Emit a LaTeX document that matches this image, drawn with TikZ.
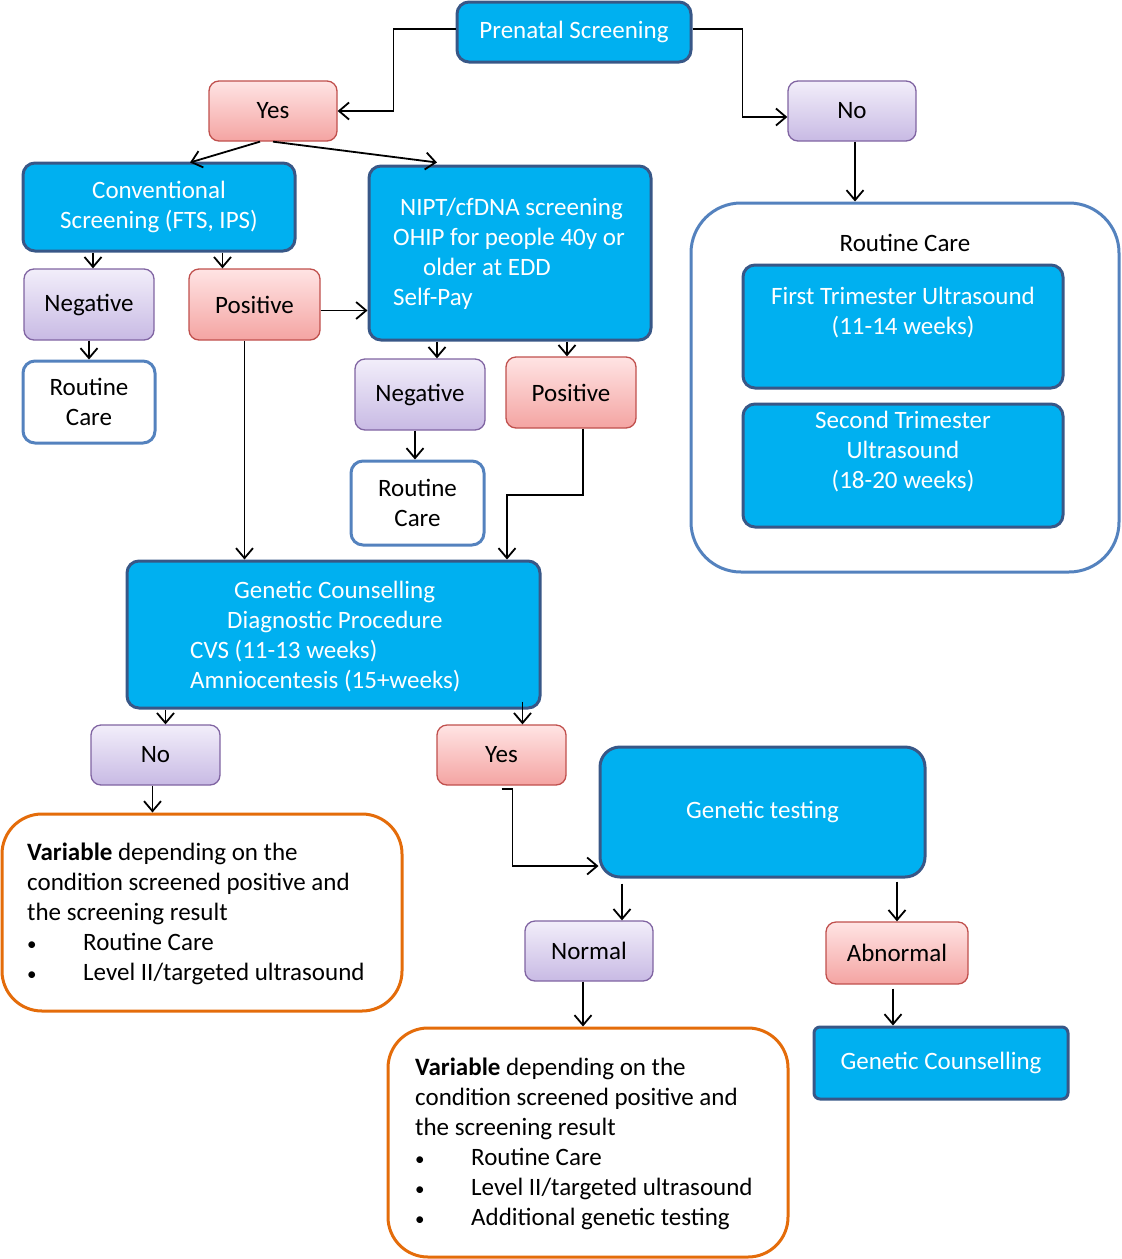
\documentclass[tikz,border=0pt]{standalone}
\usepackage{fontspec}
\setmainfont{Carlito}
\usetikzlibrary{arrows.meta}
\definecolor{bfill}{RGB}{0,176,240}
\definecolor{bdraw}{RGB}{56,87,135}
\definecolor{wdraw}{RGB}{84,130,190}
\definecolor{pinktop}{RGB}{255,228,228}
\definecolor{pinkbot}{RGB}{244,164,162}
\definecolor{pinkdraw}{RGB}{192,80,77}
\definecolor{purtop}{RGB}{242,238,250}
\definecolor{purbot}{RGB}{200,186,228}
\definecolor{purdraw}{RGB}{128,100,162}
\definecolor{orng}{RGB}{228,108,10}
\newcommand{\mybul}{\makebox[56pt][l]{{\fontsize{19}{30}\selectfont•}}}
\begin{document}
\begin{tikzpicture}[x=1pt,y=-1pt, font=\fontsize{25}{30}\selectfont,
 bluebox/.style={draw=bdraw, line width=3pt, fill=bfill, rounded corners=12pt, text=white, align=center, inner sep=0pt},
 pinkbox/.style={draw=pinkdraw, line width=1.3pt, top color=pinktop, bottom color=pinkbot, rounded corners=10pt, inner sep=0pt},
 purbox/.style={draw=purdraw, line width=1.3pt, top color=purtop, bottom color=purbot, rounded corners=10pt, inner sep=0pt},
 whitebox/.style={draw=wdraw, line width=3pt, fill=white, rounded corners=12pt, align=center, inner sep=0pt},
 varbox/.style={draw=orng, line width=3pt, fill=white, rounded corners=40pt, inner sep=0pt},
 txt/.style={inner sep=0pt, align=left},
 arr/.style={line width=1.8pt, -{Straight Barb[length=10pt,width=17pt]}}
]
\useasboundingbox (0,0) rectangle (1122,1259);

% top
\node[bluebox, minimum width=234pt, minimum height=60pt] (ps) at (574,32) {Prenatal Screening};
\node[pinkbox, minimum width=128pt, minimum height=60pt] (yes1) at (273,111) {Yes};
\node[purbox, minimum width=128pt, minimum height=60pt] (no1) at (852,111) {No};

% left branch
\node[bluebox, minimum width=272pt, minimum height=88pt] (conv) at (159,207) {Conventional\\Screening (FTS, IPS)};
\node[bluebox, minimum width=282pt, minimum height=174pt] (nipt) at (510,253) {};
\node[txt, anchor=west, text=white] (nipttxt) at (393,254) {\hspace*{7pt}NIPT/cfDNA screening\\OHIP for people 40y or\\\hspace*{30pt}older at EDD\\Self-Pay};
\node[purbox, minimum width=130pt, minimum height=71pt] (neg1) at (89,304.5) {Negative};
\node[pinkbox, minimum width=131pt, minimum height=71pt] (pos1) at (254.5,304.5) {Positive};
\node[whitebox, minimum width=132pt, minimum height=82pt] (rc1) at (89,402) {Routine\\Care};
\node[purbox, minimum width=130pt, minimum height=71pt] (neg2) at (420,394.5) {Negative};
\node[pinkbox, minimum width=130pt, minimum height=71pt] (pos2) at (571,392.5) {Positive};
\node[whitebox, minimum width=133pt, minimum height=84pt] (rc2) at (417.5,503) {Routine\\Care};

% right container
\node[draw=wdraw, line width=3pt, fill=white, rounded corners=50pt, minimum width=428pt, minimum height=369pt, inner sep=0pt] (rcbig) at (905,387.5) {};
\node[inner sep=0pt] (rclab) at (905,243) {Routine Care};
\node[bluebox, minimum width=320pt, minimum height=123pt] (ftu) at (903,326.5) {};
\node[txt, align=center, text=white] (ftut) at (903,313) {First Trimester Ultrasound\\(11-14 weeks)};
\node[bluebox, minimum width=320pt, minimum height=123pt] (stu) at (903,465.5) {};
\node[txt, align=center, text=white] (stut) at (903,452) {Second Trimester\\Ultrasound\\(18-20 weeks)};

% genetic counselling
\node[bluebox, minimum width=413pt, minimum height=147pt] (gc) at (333.5,634.5) {};
\node[txt, anchor=west, text=white] (gctxt) at (190,637) {\hspace*{44pt}Genetic Counselling\\\hspace*{37pt}Diagnostic Procedure\\CVS (11-13 weeks)\\Amniocentesis (15+weeks)};
\node[purbox, minimum width=129pt, minimum height=60pt] (no2) at (155.5,755) {No};
\node[pinkbox, minimum width=129pt, minimum height=60pt] (yes2) at (501.5,755) {Yes};
\node[bluebox, rounded corners=20pt, minimum width=325pt, minimum height=130pt] (gt) at (762.5,812) {Genetic testing};

\node[varbox, minimum width=400pt, minimum height=197pt] (var1) at (202,912.5) {};
\node[txt, anchor=west] (var1t) at (27,914) {\textbf{Variable} depending on the\\condition screened positive and\\the screening result\\\mybul Routine Care\\\mybul Level II/targeted ultrasound};

\node[purbox, minimum width=128pt, minimum height=60pt] (normal) at (589,951) {Normal};
\node[pinkbox, minimum width=142pt, minimum height=62pt] (abn) at (897,953) {Abnormal};
\node[bluebox, rounded corners=6pt, minimum width=254pt, minimum height=72pt] (gc2) at (941,1063) {Genetic Counselling};

\node[varbox, minimum width=400pt, minimum height=229pt] (var2) at (588,1142.5) {};
\node[txt, anchor=west] (var2t) at (415,1144) {\textbf{Variable} depending on the\\condition screened positive and\\the screening result\\\mybul Routine Care\\\mybul Level II/targeted ultrasound\\\mybul Additional genetic testing};

% connectors
\draw[arr] ([yshift=3pt]ps.west) -- ++(-62,0) |- (yes1.east);
\draw[arr] ([yshift=3pt]ps.east) -- ++(50,0) |- ([yshift=-6pt]no1.west);
\draw[arr] ([xshift=-13pt]yes1.south) -- ([xshift=31pt,yshift=-1pt]conv.north);
\draw[arr] (yes1.south) -- ([xshift=-73pt,yshift=2pt]nipt.north);
\draw[arr] ([xshift=3pt]no1.south) -- ([xshift=3pt]no1.south |- rcbig.north);
\draw[arr] ([xshift=4pt]neg1.north |- conv.south) -- ([xshift=4pt]neg1.north);
\draw[arr] ([xshift=-32pt]pos1.north |- conv.south) -- ([xshift=-32pt]pos1.north);
\draw[arr] (neg1.south) -- (rc1.north);
\draw[arr] ([yshift=-6pt]pos1.east) -- ([yshift=-6pt]pos1.east -| nipt.west);
\draw[arr] ([xshift=-10pt]pos1.south) -- ([xshift=-10pt]pos1.south |- gc.north);
\draw[arr] ([xshift=17pt]neg2.north |- nipt.south) -- ([xshift=17pt]neg2.north);
\draw[arr] ([xshift=-4pt]pos2.north |- nipt.south) -- ([xshift=-4pt]pos2.north);
\draw[arr] ([xshift=-5pt]neg2.south) -- ([xshift=-5pt]neg2.south |- rc2.north);
\draw[arr] ([xshift=12pt]pos2.south) -- ++(0,66) -| ([xshift=173.5pt]gc.north);
\draw[arr] ([xshift=10pt]no2.north |- gc.south) -- ([xshift=10pt]no2.north);
\draw[arr] ([xshift=21pt,yshift=8pt]yes2.north |- gc.south) -- ([xshift=21pt]yes2.north);
\draw[arr] ([xshift=-3pt]no2.south) -- ([xshift=-3pt]no2.south |- var1.north);
\draw[arr] ([yshift=-3pt]yes2.south) -- ++(11,0) |- ([yshift=-54pt]gt.west);
\draw[arr] ([xshift=33pt,yshift=-5pt]normal.north |- gt.south) -- ([xshift=33pt]normal.north);
\draw[arr] ([yshift=-3pt]abn.north |- gt.south) -- (abn.north);
\draw[arr] ([xshift=-6pt]normal.south) -- ([xshift=-6pt]normal.south |- var2.north);
\draw[arr] ([xshift=-4pt,yshift=-4pt]abn.south) -- ([xshift=-4pt]abn.south |- gc2.north);
\end{tikzpicture}
\end{document}
